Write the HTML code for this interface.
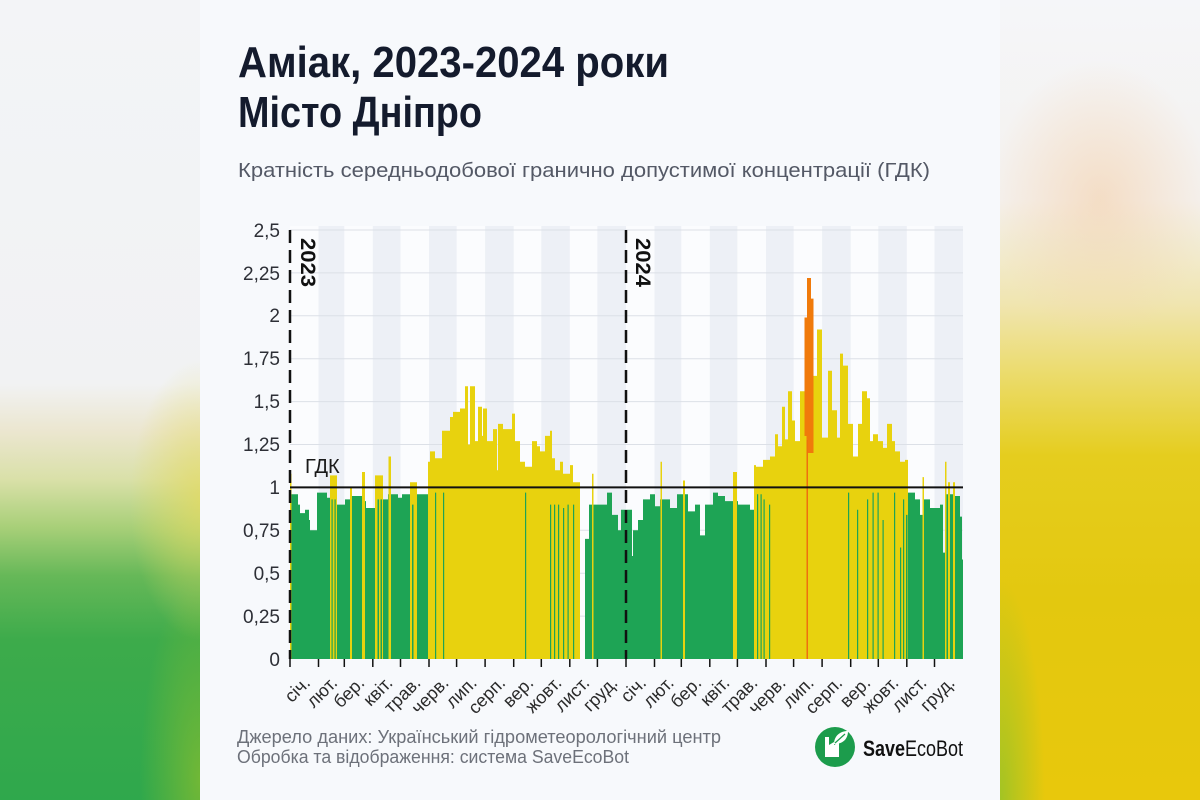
<!DOCTYPE html>
<html><head><meta charset="utf-8">
<style>
html,body{margin:0;padding:0;width:1200px;height:800px;overflow:hidden;background:#f7f9fc;}
.bgl{position:absolute;left:0;top:0;width:200px;height:800px;
background:
radial-gradient(ellipse 70px 140px at 200px 500px, rgba(228,218,95,0.75), rgba(228,218,95,0) 100%),
radial-gradient(ellipse 60px 200px at 200px 780px, rgba(140,190,45,0.7), rgba(140,190,45,0) 100%),
linear-gradient(to bottom,#f3f4f7 0%,#f1f2f3 48%,#ebe6cf 54%,#d9e0a8 60%,#a7cf78 66%,#66b858 72%,#3dab4b 80%,#2fa84c 100%);}
.bgr{position:absolute;left:1000px;top:0;width:200px;height:800px;
background:
radial-gradient(ellipse 110px 140px at 100px 200px, rgba(243,208,170,0.6), rgba(243,208,170,0) 100%),
radial-gradient(ellipse 45px 220px at 0px 800px, rgba(150,195,40,0.85), rgba(150,195,40,0) 100%),
linear-gradient(to bottom,#f5f6f9 0%,#f4f1ee 25%,#f0e5b0 38%,#ebdb6a 47%,#e5cd1e 57%,#e3c80f 75%,#e8c80c 100%);}
svg{position:absolute;left:0;top:0;}
</style></head>
<body>
<div class="bgl"></div><div class="bgr"></div>
<svg width="1200" height="800" viewBox="0 0 1200 800" xmlns="http://www.w3.org/2000/svg">
<rect x="200" y="0" width="800" height="800" fill="#f7f9fc"/>

<!-- titles -->
<g font-family="'Liberation Sans Narrow','Liberation Sans',sans-serif" font-weight="bold" fill="#141b2d" font-size="44">
<text x="238" y="77" textLength="431" lengthAdjust="spacingAndGlyphs">Аміак, 2023-2024 роки</text>
<text x="238" y="127" textLength="244" lengthAdjust="spacingAndGlyphs">Місто Дніпро</text>
</g>
<text x="238" y="177" font-family="'Liberation Sans',sans-serif" font-size="20" fill="#545966" textLength="692" lengthAdjust="spacingAndGlyphs">Кратність середньодобової гранично допустимої концентрації (ГДК)</text>

<!-- plot background -->
<rect x="290" y="226" width="673" height="433" fill="#fbfcfe"/>
<g fill="#edf0f6">
<rect x="318.5" y="226" width="25.8" height="433"/>
<rect x="372.8" y="226" width="27.7" height="433"/>
<rect x="429" y="226" width="27.6" height="433"/>
<rect x="485.1" y="226" width="28.6" height="433"/>
<rect x="541.3" y="226" width="28.5" height="433"/>
<rect x="597.4" y="226" width="28.6" height="433"/>
<rect x="654.5" y="226" width="26.8" height="433"/>
<rect x="709.8" y="226" width="27.6" height="433"/>
<rect x="766" y="226" width="27.6" height="433"/>
<rect x="822.1" y="226" width="28.6" height="433"/>
<rect x="878.3" y="226" width="28.5" height="433"/>
<rect x="934.5" y="226" width="28.5" height="433"/>
</g>
<g stroke="#dce0e7" stroke-width="1">
<line x1="290" x2="963" y1="616.1" y2="616.1"/>
<line x1="290" x2="963" y1="573.2" y2="573.2"/>
<line x1="290" x2="963" y1="530.3" y2="530.3"/>
<line x1="290" x2="963" y1="444.5" y2="444.5"/>
<line x1="290" x2="963" y1="401.6" y2="401.6"/>
<line x1="290" x2="963" y1="358.7" y2="358.7"/>
<line x1="290" x2="963" y1="315.8" y2="315.8"/>
<line x1="290" x2="963" y1="272.9" y2="272.9"/>
<line x1="290" x2="963" y1="230" y2="230"/>
</g>

<!-- green base -->
<path fill="#1ea455" d="M290 494.3H298V659H290Z M298 504.6H300V659H298Z M300 513.1H305V659H300Z M305 509.7H309V659H305Z M309 520H310V659H309Z M310 530.3H317V659H310Z M317 492.6H327V659H317Z M327 497.7H330V659H327Z M330 499.4H337V659H330Z M337 504.6H345V659H337Z M345 499.4H350V659H345Z M350 496H362V659H350Z M362 501.1H366V659H362Z M366 508H375V659H366Z M375 499.4H388V659H375Z M388 494.3H398V659H388Z M398 497.7H402V659H398Z M402 494.3H410V659H402Z M410 504.6H417V659H410Z M417 494.3H428V659H417Z M585 538.9H589V659H585Z M589 504.6H607V659H589Z M607 492.6H612V659H607Z M612 514.9H618V659H612Z M618 530.3H621V659H618Z M621 509.7H626V659H621Z
M626 509.7H632V659H626Z M632 556H633V659H632Z M633 530.3H638V659H633Z M638 520H643V659H638Z M643 499.4H650V659H643Z M650 494.3H655V659H650Z M655 506.3H660V659H655Z M660 499.4H670V659H660Z M670 508H677V659H670Z M677 494.3H688V659H677Z M688 511.4H695V659H688Z M695 504.6H700V659H695Z M700 535.4H705V659H700Z M705 504.6H713V659H705Z M713 492.6H718V659H713Z M718 496H725V659H718Z M725 501.1H738V659H725Z M738 504.6H750V659H738Z M750 509.7H754V659H750Z M754 494.3H760V659H754Z M905 514.9H908V659H905Z M908 492.6H915V659H908Z M915 499.4H920V659H915Z M920 514.9H924V659H920Z M924 499.4H930V659H924Z M930 508H940V659H930Z M940 504.6H943V659H940Z M943 552.6H946V659H943Z M946 494.3H955V659H946Z M955 496H960V659H955Z M960 516.6H962V659H960Z M962 559.5H963V659H962Z"/>

<!-- yellow -->
<path fill="#e8d20e" d="M428 461.7H430V659H428Z M430 451.4H435V659H430Z M435 458.2H442V659H435Z M442 430.8H450V659H442Z M450 417H453V659H450Z M453 411.9H460V659H453Z M460 408.5H465V659H460Z M465 386.2H468V659H465Z M468 444.5H470V659H468Z M470 386.2H475V659H470Z M475 441.1H478V659H475Z M478 406.7H482V659H478Z M482 435.9H483V659H482Z M483 408.5H487V659H483Z M487 441.1H493V659H487Z M493 429.1H497V659H493Z M497 470.2H498V659H497Z M498 423.9H503V659H498Z M503 429.1H512V659H503Z M512 413.6H515V659H512Z M515 441.1H520V659H515Z M520 461.7H525V659H520Z M525 466.8H532V659H525Z M532 441.1H537V659H532Z M537 446.2H540V659H537Z M540 451.4H545V659H540Z M545 435.9H550V659H545Z M550 430.8H552V659H550Z M552 458.2H555V659H552Z M555 470.2H560V659H555Z M560 461.7H563V659H560Z M563 473.7H570V659H563Z M570 465.1H573V659H570Z M573 482.3H580V659H573Z
M290 473.7H291.5V659H290Z M330 475.4H337V659H330Z M350 487.4H352V659H350Z M362 472H365V659H362Z M375 475.4H383V659H375Z M388.5 456.5H391V659H388.5Z M410 482.3H417V659H410Z M592 473.7H593.5V659H592Z
M660.5 461.7H662V659H660.5Z M683 480.5H685V659H683Z M733 472H737V659H733Z M754 465.1H756V659H754Z M922.5 477.1H924V659H922.5Z M945 461.7H946.5V659H945Z M948 482.3H950V659H948Z M953 482.3H955V659H953Z
M756 466.8H763V659H756Z M763 459.9H770V659H763Z M770 456.5H775V659H770Z M775 434.2H778V659H775Z M778 446.2H782V659H778Z M782 406.7H785V659H782Z M785 439.4H788V659H785Z M788 391.3H792V659H788Z M792 420.5H795V659H792Z M795 441.1H800V659H795Z M800 391.3H804.5V659H800Z M813.5 375.9H817V659H813.5Z M817 329.5H822V659H817Z M822 437.6H828V659H822Z M828 370.7H832V659H828Z M832 410.2H837V659H832Z M837 437.6H840V659H837Z M840 353.6H843V659H840Z M843 365.6H848V659H843Z M848 423.9H853V659H848Z M853 456.5H858V659H853Z M858 423.9H862V659H858Z M862 391.3H867V659H862Z M867 398.2H870V659H867Z M870 441.1H873V659H870Z M873 434.2H878V659H873Z M878 441.1H883V659H878Z M883 447.9H887V659H883Z M887 423.9H892V659H887Z M892 441.1H895V659H892Z M895 451.4H900V659H895Z M900 461.7H905V659H900Z M905 459.9H908V659H905Z"/>

<!-- orange -->
<path fill="#f07a0b" d="M804.5 317.5H807V659H804.5Z M807 278H811V659H807Z M811 298.6H813.5V659H811Z"/>
<path fill="#e8d20e" d="M804.5 436H806.5V659H804.5Z M808 453H813.5V659H808Z"/>
<rect x="806.5" y="440" width="1.3" height="219" fill="#ee6f10"/>

<!-- thin green lines -->
<path fill="#1ea455" d="M331.5 499.4H332.7V659H331.5Z M334.5 499.4H335.7V659H334.5Z M377.5 499.4H379V659H377.5Z M380.5 499.4H382V659H380.5Z M412 504.6H413.5V659H412Z M435 492.6H436.2V659H435Z M443 492.6H444.2V659H443Z M525 492.6H526.2V659H525Z M550 504.6H551.2V659H550Z M554 504.6H555.2V659H554Z M558 504.6H559.2V659H558Z M563 508H564.2V659H563Z M567.5 504.6H568.7V659H567.5Z M573 504.6H574.2V659H573Z
M757 494.3H758.2V659H757Z M760.5 494.3H761.7V659H760.5Z M763.5 499.4H764.7V659H763.5Z M769 504.6H770.2V659H769Z M848 492.6H849.2V659H848Z M857 509.7H858.2V659H857Z M867 499.4H868.2V659H867Z M872.5 492.6H873.7V659H872.5Z M877.5 492.6H878.7V659H877.5Z M882.5 520H883.7V659H882.5Z M894 492.6H895.2V659H894Z M900 547.5H901.2V659H900Z M903 499.4H904.2V659H903Z M906 514.9H907.5V659H906Z"/>

<!-- GDK line -->
<line x1="290" x2="963" y1="487.4" y2="487.4" stroke="#111" stroke-width="2"/>
<!-- year dashed lines -->
<g stroke="#111" stroke-width="2.5" stroke-dasharray="13 7">
<line x1="290" x2="290" y1="230" y2="659"/>
<line x1="626" x2="626" y1="230" y2="659"/>
</g>
<!-- ticks -->
<g stroke="#111" stroke-width="1.5">
<line x1="290" x2="290" y1="659" y2="667"/><line x1="318.5" x2="318.5" y1="659" y2="667"/><line x1="344.3" x2="344.3" y1="659" y2="667"/><line x1="372.8" x2="372.8" y1="659" y2="667"/><line x1="400.5" x2="400.5" y1="659" y2="667"/><line x1="429" x2="429" y1="659" y2="667"/><line x1="456.6" x2="456.6" y1="659" y2="667"/><line x1="485.1" x2="485.1" y1="659" y2="667"/><line x1="513.7" x2="513.7" y1="659" y2="667"/><line x1="541.3" x2="541.3" y1="659" y2="667"/><line x1="569.8" x2="569.8" y1="659" y2="667"/><line x1="597.4" x2="597.4" y1="659" y2="667"/><line x1="626" x2="626" y1="659" y2="667"/>
<line x1="654.5" x2="654.5" y1="659" y2="667"/><line x1="681.3" x2="681.3" y1="659" y2="667"/><line x1="709.8" x2="709.8" y1="659" y2="667"/><line x1="737.4" x2="737.4" y1="659" y2="667"/><line x1="766" x2="766" y1="659" y2="667"/><line x1="793.6" x2="793.6" y1="659" y2="667"/><line x1="822.1" x2="822.1" y1="659" y2="667"/><line x1="850.7" x2="850.7" y1="659" y2="667"/><line x1="878.3" x2="878.3" y1="659" y2="667"/><line x1="906.8" x2="906.8" y1="659" y2="667"/><line x1="934.5" x2="934.5" y1="659" y2="667"/>
</g>

<!-- y labels -->
<g font-family="'Liberation Sans',sans-serif" font-size="19" fill="#2d2f36" text-anchor="end">
<text x="280" y="666">0</text>
<text x="280" y="623">0,25</text>
<text x="280" y="580">0,5</text>
<text x="280" y="537">0,75</text>
<text x="280" y="494">1</text>
<text x="280" y="451">1,25</text>
<text x="280" y="408">1,5</text>
<text x="280" y="365">1,75</text>
<text x="280" y="322">2</text>
<text x="280" y="280">2,25</text>
<text x="280" y="237">2,5</text>
</g>

<text x="305" y="473" font-family="'Liberation Sans',sans-serif" font-size="20" fill="#1a1a1a">ГДК</text>
<g font-family="'Liberation Sans',sans-serif" font-size="21" font-weight="bold" fill="#111">
<text transform="translate(301,238) rotate(90)" textLength="49" lengthAdjust="spacingAndGlyphs">2023</text>
<text transform="translate(636,238) rotate(90)" textLength="49" lengthAdjust="spacingAndGlyphs">2024</text>
</g>

<!-- month labels -->
<g font-family="'Liberation Sans',sans-serif" font-size="18" fill="#2a2a2a" text-anchor="end">
<text transform="translate(311.3,684) rotate(-45)">січ.</text>
<text transform="translate(338.4,684) rotate(-45)">лют.</text>
<text transform="translate(365.6,684) rotate(-45)">бер.</text>
<text transform="translate(393.6,684) rotate(-45)">квіт.</text>
<text transform="translate(421.7,684) rotate(-45)">трав.</text>
<text transform="translate(449.8,684) rotate(-45)">черв.</text>
<text transform="translate(477.9,684) rotate(-45)">лип.</text>
<text transform="translate(506.4,684) rotate(-45)">серп.</text>
<text transform="translate(534.5,684) rotate(-45)">вер.</text>
<text transform="translate(562.6,684) rotate(-45)">жовт.</text>
<text transform="translate(590.6,684) rotate(-45)">лист.</text>
<text transform="translate(618.7,684) rotate(-45)">груд.</text>
<text transform="translate(647.3,684) rotate(-45)">січ.</text>
<text transform="translate(674.9,684) rotate(-45)">лют.</text>
<text transform="translate(702.5,684) rotate(-45)">бер.</text>
<text transform="translate(730.6,684) rotate(-45)">квіт.</text>
<text transform="translate(758.7,684) rotate(-45)">трав.</text>
<text transform="translate(786.8,684) rotate(-45)">черв.</text>
<text transform="translate(814.9,684) rotate(-45)">лип.</text>
<text transform="translate(843.4,684) rotate(-45)">серп.</text>
<text transform="translate(871.5,684) rotate(-45)">вер.</text>
<text transform="translate(899.6,684) rotate(-45)">жовт.</text>
<text transform="translate(927.7,684) rotate(-45)">лист.</text>
<text transform="translate(955.8,684) rotate(-45)">груд.</text>
</g>

<!-- footer -->
<g font-family="'Liberation Sans',sans-serif" font-size="18" fill="#6d717a">
<text x="237" y="743" textLength="484" lengthAdjust="spacingAndGlyphs">Джерело даних: Український гідрометеорологічний центр</text>
<text x="237" y="763" textLength="392" lengthAdjust="spacingAndGlyphs">Обробка та відображення: система SaveEcoBot</text>
</g>

<!-- logo -->
<circle cx="835" cy="747" r="20" fill="#1c9c4c"/>
<path fill="#fff" d="M825 737H829V745L834 742V745L839 742V757H825Z"/>
<path fill="#fff" d="M834 744C834 736 840 731 848 731C848 739 843 744 834 744Z"/>
<path stroke="#1c9c4c" stroke-width="1.2" fill="none" d="M835 743L845 734"/>
<text x="863" y="756" font-family="'Liberation Sans Narrow','Liberation Sans',sans-serif" font-size="22" fill="#111" textLength="100" lengthAdjust="spacingAndGlyphs"><tspan font-weight="bold">Save</tspan>EcoBot</text>
</svg>
</body></html>
